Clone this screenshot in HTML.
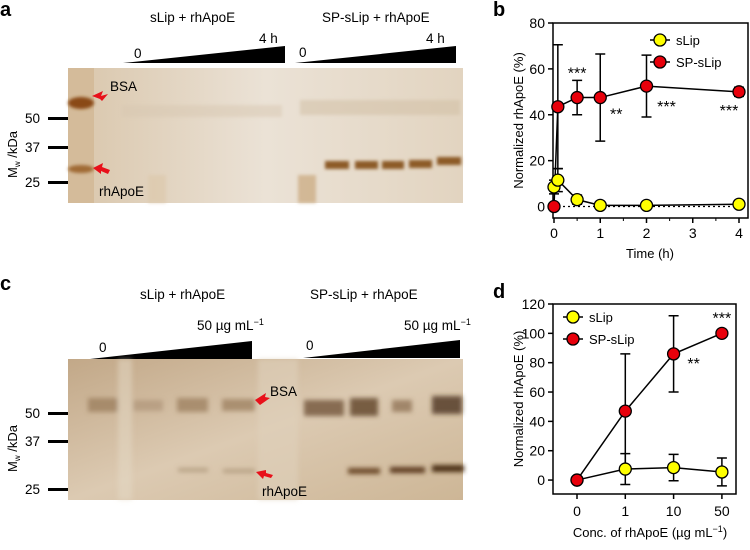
<!DOCTYPE html>
<html><head><meta charset="utf-8"><style>
body{margin:0;background:#fff;width:750px;height:545px;overflow:hidden}
svg{font-family:"Liberation Sans",sans-serif}
</style></head><body>
<svg id="fig" width="750" height="545" viewBox="0 0 750 545">
<defs>
<linearGradient id="gelA" x1="0" x2="1" y1="0" y2="0"><stop offset="0" stop-color="#d9c6ab"/><stop offset="0.5" stop-color="#ebe2d6"/><stop offset="1" stop-color="#e2d4c0"/></linearGradient>
<linearGradient id="gelC" x1="0" x2="1" y1="0" y2="1"><stop offset="0" stop-color="#c2a888"/><stop offset="0.5" stop-color="#dccab2"/><stop offset="1" stop-color="#cdb696"/></linearGradient>
<filter id="blur"><feGaussianBlur stdDeviation="1.5"/></filter>
<filter id="blur2"><feGaussianBlur stdDeviation="2.5"/></filter>
</defs>

<!-- Panel a -->
<g>
<text x="0" y="16" font-size="20" font-weight="bold">a</text>
<text x="150" y="22" font-size="13.5">sLip + rhApoE</text>
<text x="322" y="22" font-size="13.5">SP-sLip + rhApoE</text>
<text x="259" y="43" font-size="13.5">4 h</text><text x="426" y="43" font-size="13.5">4 h</text>
<text x="134" y="58" font-size="13.5">0</text><text x="299" y="57" font-size="13.5">0</text>
<polygon points="123,63 285,46 285,63" fill="#000"/>
<polygon points="295,63 456,46 456,63" fill="#000"/>
<rect x="68" y="68" width="395" height="135" fill="url(#gelA)"/>
<rect x="68" y="68" width="26" height="135" fill="#d4bb9a"/>
<g filter="url(#blur)">
<ellipse cx="81" cy="103" rx="13" ry="6" fill="#8a4a16"/>
<ellipse cx="81" cy="169" rx="13" ry="4" fill="#a06a35"/>
<rect x="122" y="105" width="160" height="12" fill="#d8c8b2" opacity="0.5"/>
<rect x="300" y="100" width="160" height="15" fill="#d0bda2" opacity="0.5"/>
<rect x="325" y="161" width="24" height="8" fill="#8c5a28"/>
<rect x="355" y="161" width="23" height="8" fill="#8c5a28"/>
<rect x="382" y="161" width="22" height="8" fill="#8c5a28"/>
<rect x="409" y="160" width="23" height="8" fill="#8c5a28"/>
<rect x="437" y="157" width="24" height="8" fill="#8c5a28"/>
<rect x="298" y="175" width="18" height="28" fill="#c9a77c" opacity="0.7"/>
<rect x="148" y="175" width="18" height="28" fill="#ddc9ac" opacity="0.7"/>
</g>
<polygon points="92,96 103,91 101,96 108,94 102,101 100,99" fill="#e8101a"/>
<polygon points="93,168 103,163 102,167 110,170 108,174 101,171 101,174" fill="#e8101a"/>
<text x="110" y="91" font-size="13.5">BSA</text>
<text x="99" y="196" font-size="13.5">rhApoE</text>
<text x="25" y="123" font-size="13.5">50</text><rect x="48" y="117" width="20" height="3" fill="#000"/>
<text x="25" y="152" font-size="13.5">37</text><rect x="48" y="146" width="20" height="3" fill="#000"/>
<text x="25" y="187" font-size="13.5">25</text><rect x="48" y="181" width="20" height="3" fill="#000"/>
<text transform="translate(17,178) rotate(-90)" font-size="13">M<tspan font-size="8" dy="3">w</tspan><tspan dy="-3"> /kDa</tspan></text>
</g>

<!-- Panel c -->
<g>
<text x="0" y="290" font-size="20" font-weight="bold">c</text>
<text x="140" y="299" font-size="13.5">sLip + rhApoE</text>
<text x="310" y="299" font-size="13.5">SP-sLip + rhApoE</text>
<text x="197" y="330" font-size="13.5">50 µg mL<tspan font-size="9" dy="-5">−1</tspan></text>
<text x="404" y="330" font-size="13.5">50 µg mL<tspan font-size="9" dy="-5">−1</tspan></text>
<text x="99" y="352" font-size="13.5">0</text><text x="306" y="350" font-size="13.5">0</text>
<polygon points="90,359 252,341 252,359" fill="#000"/>
<polygon points="303,358 460,340 460,358" fill="#000"/>
<rect x="68" y="359" width="395" height="141" fill="url(#gelC)"/>
<g filter="url(#blur2)">
<rect x="88" y="398" width="30" height="14" fill="#8e6e4c" opacity="0.6"/>
<rect x="133" y="400" width="30" height="11" fill="#a2866a" opacity="0.5"/>
<rect x="177" y="398" width="31" height="14" fill="#8e6e4c" opacity="0.6"/>
<rect x="222" y="399" width="33" height="12" fill="#8e6e4c" opacity="0.6"/>
<rect x="304" y="400" width="40" height="16" fill="#6b4e30" opacity="0.75"/>
<rect x="350" y="398" width="28" height="18" fill="#5e4228" opacity="0.8"/>
<rect x="392" y="400" width="20" height="12" fill="#7a5c3c" opacity="0.6"/>
<rect x="432" y="396" width="30" height="18" fill="#4e3620" opacity="0.8"/>
<rect x="178" y="468" width="30" height="4" fill="#a89274" opacity="0.7"/>
<rect x="223" y="469" width="32" height="4" fill="#a89274" opacity="0.7"/>
<rect x="348" y="468" width="32" height="6" fill="#6e4c2a"/>
<rect x="390" y="467" width="35" height="6" fill="#5e3e20"/>
<rect x="432" y="465" width="32" height="7" fill="#4e3218"/>
<rect x="118" y="359" width="14" height="141" fill="#e6d9c6" opacity="0.5"/>
<rect x="258" y="359" width="40" height="141" fill="#e0d0ba" opacity="0.6"/>
</g>
<polygon points="255,400 266,393 265,397 270,398 260,405" fill="#e8101a"/>
<polygon points="256,472 266,470 266,473 273,475 271,478 264,476 263,479" fill="#e8101a"/>
<text x="270" y="396" font-size="13.5">BSA</text>
<text x="262" y="496" font-size="13.5">rhApoE</text>
<text x="25" y="418" font-size="13.5">50</text><rect x="48" y="412" width="20" height="3" fill="#000"/>
<text x="25" y="446" font-size="13.5">37</text><rect x="48" y="440" width="20" height="3" fill="#000"/>
<text x="25" y="494" font-size="13.5">25</text><rect x="48" y="488" width="20" height="3" fill="#000"/>
<text transform="translate(17,472) rotate(-90)" font-size="13">M<tspan font-size="8" dy="3">w</tspan><tspan dy="-3"> /kDa</tspan></text>
</g>

<g id="chartB"></g>
<g id="chartD"></g>
</svg>
<script>
const NS="http://www.w3.org/2000/svg";
// Panel b data
const bTimes=[0,0.083,0.5,1,2,4];
const bSlip=[8.5,11.5,3,0.5,0.5,1];
const bSlipErr=[3,5,2,0.5,0.5,0.5];
const bSp=[0,43.5,47.5,47.5,52.5,50];
const bSpErr=[0,27,7.5,19,13.5,2];
const bSig=["","","***","**","***","***"];
const bXTicks=[0,1,2,3,4];
const bYTicks=[0,20,40,60,80];
// Panel d data
const dCats=["0","1","10","50"];
const dSlip=[0,7.5,8.5,5.5];
const dSlipErr=[0,10.5,9,9.5];
const dSp=[0,47,86,100];
const dSpErr=[0,39,26,0];
const dSig=["","","**","***"];
const dYTicks=[0,20,40,60,80,100,120];

function el(parent,tag,attrs,text){const e=document.createElementNS(NS,tag);for(const k in attrs)e.setAttribute(k,attrs[k]);if(text!==undefined)e.textContent=text;parent.appendChild(e);return e;}

function drawChart(g,opt){
  const {x0,x1,y0,y1,ymin,ymax,xs,ySc,label,lx,ly}=opt;
  el(g,"text",{x:lx,y:ly,"font-size":20,"font-weight":"bold"},label);
  el(g,"rect",{x:x0,y:y0,width:x1-x0,height:y1-y0,fill:"none",stroke:"#000","stroke-width":1.5});
  opt.yTicks.forEach(v=>{const y=ySc(v);
    const t=el(g,"line",{x1:x0-5,x2:x0,y1:y,y2:y,stroke:"#000","stroke-width":1.5});
    
    const l=el(g,"text",{x:x0-8,y:y+5,"font-size":14,"text-anchor":"end"},v);
    
  });
  opt.xTickList.forEach((t,i)=>{const x=xs(t.v);
    el(g,"line",{x1:x,x2:x,y1:y1,y2:y1+5,stroke:"#000","stroke-width":1.5});
    const l=el(g,"text",{x:x,y:y1+opt.tickLabelDy,"font-size":14,"text-anchor":"middle"},t.l);
    
  });
  const yl=el(g,"text",{transform:`translate(${opt.ytx},${(y0+y1)/2}) rotate(-90)`,"font-size":13,"text-anchor":"middle"},"Normalized rhApoE (%)");
  
  const xl=el(g,"text",{x:opt.xtx,y:opt.xty,"font-size":13,"text-anchor":"middle"});
  xl.innerHTML=opt.xTitle;
  
  opt.series.forEach(s=>{
    const pts=s.vals.map((v,i)=>[xs(s.xv[i]),ySc(v)]);
    const ln=el(g,"polyline",{points:pts.map(p=>p.join(",")).join(" "),fill:"none",stroke:"#000","stroke-width":1.5});
    
    s.vals.forEach((v,i)=>{const x=pts[i][0];const e=s.err[i];if(e>0){
      const yt=ySc(v+e), yb=ySc(v-e);
      const eb=el(g,"path",{d:`M${x},${yt}V${yb}M${x-5},${yt}H${x+5}M${x-5},${yb}H${x+5}`,stroke:"#000","stroke-width":1.5,fill:"none"});
      }});
  });
  opt.series.forEach(s=>{
    s.vals.forEach((v,i)=>{const c=el(g,"circle",{cx:xs(s.xv[i]),cy:ySc(v),r:6,fill:s.color,stroke:"#000","stroke-width":1.3});
      });
  });
  opt.sig.forEach((s,i)=>{if(!s)return;const p=opt.sigPos(i);
    const t=el(g,"text",{x:p[0],y:p[1],"font-size":16,"text-anchor":"middle"},s);
    });
  opt.series.forEach((s,i)=>{const ly=opt.legY+i*22;
    el(g,"line",{x1:opt.legX-10,x2:opt.legX+10,y1:ly,y2:ly,stroke:"#000","stroke-width":1.5});
    const c=el(g,"circle",{cx:opt.legX,cy:ly,r:6,fill:s.color,stroke:"#000","stroke-width":1.3});
    
    const t=el(g,"text",{x:opt.legX+16,y:ly+5,"font-size":13},s.label);
    });
}

const bSigOff=[[0,0],[0,0],[0,-19],[16,22],[20,26],[-10,24]];
const dSigOff=[[0,0],[0,0],[20,15],[0,-10]];

// chart b
(function(){
  const x0=553,x1=748,y0=23,y1=218,ymin=-5,ymax=80;
  const ySc=v=>y0+(ymax-v)/(ymax-ymin)*(y1-y0);
  const xs=v=>554+v*(739-554)/4;
  const g=document.getElementById('chartB');
  const z=el(g,"line",{x1:x0,x2:x1,y1:ySc(0),y2:ySc(0),stroke:"#000","stroke-width":1.3,"stroke-dasharray":"2,3"});
  
  drawChart(g,{x0,x1,y0,y1,ymin,ymax,xs,ySc,label:"b",lx:493,ly:16,yTicks:bYTicks,
    xTickList:bXTicks.map(v=>({v,l:v})),tickLabelDy:20,ytx:523,xtx:650,xty:258,xTitle:"Time (h)",
    series:[{name:"slip",label:"sLip",color:"#ffff00",xv:bTimes,vals:bSlip,err:bSlipErr},
            {name:"sp-slip",label:"SP-sLip",color:"#e8000b",xv:bTimes,vals:bSp,err:bSpErr}],
    sig:bSig,sigPos:i=>[xs(bTimes[i])+bSigOff[i][0],ySc(bSp[i])+bSigOff[i][1]],
    legX:660,legY:40});
  [0.5,1.5,2.5,3.5].forEach(v=>{el(g,"line",{x1:xs(v),x2:xs(v),y1:y1,y2:y1+3,stroke:"#000"});});
})();

// chart d
(function(){
  const x0=553,x1=736,y0=304,y1=494,ymin=-9.5,ymax=120;
  const ySc=v=>y0+(ymax-v)/(ymax-ymin)*(y1-y0);
  const xs=i=>577+i*48.3;
  const idx=dCats.map((c,i)=>i);
  const g=document.getElementById('chartD');
  drawChart(g,{x0,x1,y0,y1,ymin,ymax,xs,ySc,label:"d",lx:493,ly:298,yTicks:dYTicks,
    xTickList:idx.map(i=>({v:i,l:dCats[i]})),tickLabelDy:22,ytx:523,xtx:650,xty:537,
    xTitle:'Conc. of rhApoE (µg mL<tspan font-size="9" dy="-5">−1</tspan><tspan dy="5">)</tspan>',
    series:[{name:"slip",label:"sLip",color:"#ffff00",xv:idx,vals:dSlip,err:dSlipErr},
            {name:"sp-slip",label:"SP-sLip",color:"#e8000b",xv:idx,vals:dSp,err:dSpErr}],
    sig:dSig,sigPos:i=>[xs(i)+dSigOff[i][0],ySc(dSp[i])+dSigOff[i][1]],
    legX:573,legY:317});
})();
</script>
</body></html>
